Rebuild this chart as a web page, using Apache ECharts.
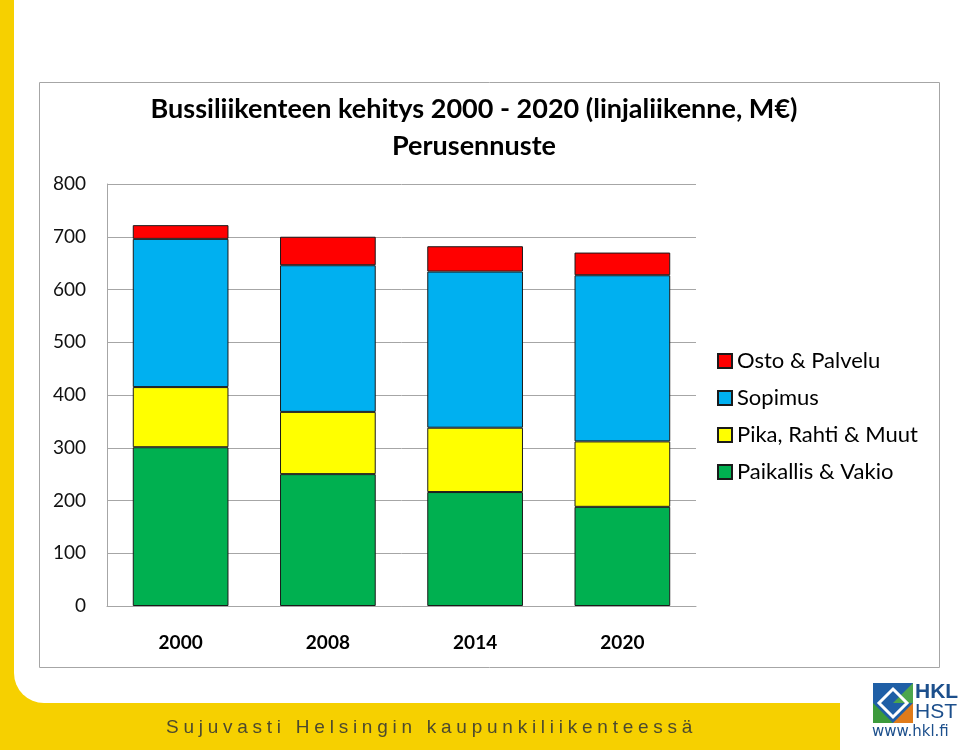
<!DOCTYPE html>
<html>
<head>
<meta charset="utf-8">
<script src="https://cdn.jsdelivr.net/npm/echarts@6/dist/echarts.min.js"></script>
<style>
html,body{margin:0;padding:0;background:#fff;}
#chart{width:960px;height:750px;position:relative;}
#footer{position:absolute;left:166px;top:716px;font-family:"Liberation Sans",Arial,sans-serif;font-size:19px;letter-spacing:4.75px;color:#4d4a2e;white-space:nowrap;}
</style>
</head>
<body>
<div id="chart"></div>
<div id="footer">Sujuvasti Helsingin kaupunkiliikenteessä</div>
<script>
const categories = ['2000', '2008', '2014', '2020'];
const seriesNames = ['Paikallis & Vakio', 'Pika, Rahti & Muut', 'Sopimus', 'Osto & Palvelu'];
const paikallisVakio = [301, 250, 216, 188];
const pikaRahtiMuut = [114, 118, 122, 124];
const sopimus = [281, 278, 296, 315];
const ostoPalvelu = [26, 54, 48, 43];
const yTicks = [0, 100, 200, 300, 400, 500, 600, 700, 800];
const titleText = 'Bussiliikenteen kehitys 2000 - 2020 (linjaliikenne, M€)';
const subtitleText = 'Perusennuste';

const colors = ['#00B050', '#FFFF00', '#00B0F0', '#FF0000'];
const values = [paikallisVakio, pikaRahtiMuut, sopimus, ostoPalvelu];
const FONT = 'Lato, "Open Sans", sans-serif';
const YELLOW = '#F6D000';

const chart = echarts.init(document.getElementById('chart'), null, {renderer: 'canvas'});
const option = {
  animation: false,
  backgroundColor: '#fff',
  textStyle: {fontFamily: FONT},
  title: {
    text: titleText,
    subtext: subtitleText,
    left: 469,
    textAlign: 'center',
    top: 91,
    itemGap: 10,
    textStyle: {fontFamily: FONT, fontWeight: 'bold', fontSize: 27, color: '#000'},
    subtextStyle: {fontFamily: FONT, fontWeight: 'bold', fontSize: 27, color: '#000'}
  },
  legend: {
    orient: 'vertical',
    left: 712,
    top: 345,
    icon: 'rect',
    itemWidth: 14,
    itemHeight: 14,
    itemGap: 15,
    data: seriesNames.slice().reverse(),
    textStyle: {fontFamily: FONT, fontSize: 22, color: '#000', padding: [0, 0, 0, 0]},
    selectedMode: false
  },
  grid: {left: 107, right: 264, top: 184, bottom: 144},
  xAxis: {
    type: 'category',
    data: categories,
    axisLine: {lineStyle: {color: '#A6A6A6', width: 1}},
    axisTick: {show: false},
    axisLabel: {fontFamily: FONT, fontWeight: 'bold', fontSize: 19, color: '#000', margin: 27}
  },
  yAxis: {
    type: 'value',
    min: yTicks[0],
    max: yTicks[yTicks.length - 1],
    interval: yTicks[1] - yTicks[0],
    axisLine: {show: true, lineStyle: {color: '#A6A6A6', width: 1}},
    axisTick: {show: false},
    splitLine: {lineStyle: {color: '#A6A6A6', width: 1}},
    axisLabel: {fontFamily: FONT, fontSize: 19, color: '#111', margin: 21}
  },
  series: seriesNames.map((name, i) => ({
    name: name,
    type: 'bar',
    stack: 'total',
    barWidth: '65%',
    data: values[i],
    itemStyle: {color: colors[i], borderColor: '#1a1a1a', borderWidth: 1}
  })),
  graphic: [
    {type: 'rect', z: -100, shape: {x: 0, y: 0, width: 840, height: 750}, style: {fill: YELLOW}},
    {type: 'rect', z: -99, shape: {x: 14, y: -40, width: 1000, height: 743, r: [0, 0, 0, 30]}, style: {fill: '#fff'}},
    {type: 'rect', z: -99, shape: {x: 840, y: 690, width: 120, height: 60}, style: {fill: '#fff'}},
    {type: 'rect', z: -98, shape: {x: 39.5, y: 82.5, width: 900, height: 585}, style: {fill: '#fff', stroke: '#A6A6A6', lineWidth: 1}},
    // logo
    {type: 'rect', z: 10, shape: {x: 873, y: 683, width: 40, height: 40}, style: {fill: '#1F5FA6'}},
    {type: 'polygon', z: 11, shape: {points: [[873, 703], [873, 723], [893, 723]]}, style: {fill: '#3C9A3C'}},
    {type: 'polygon', z: 11, shape: {points: [[913, 703], [913, 723], [893, 723]]}, style: {fill: '#E07B1A'}},
    {type: 'polygon', z: 11, shape: {points: [[893, 703], [913, 683], [913, 703]]}, style: {fill: '#4CA64C'}},
    {type: 'polygon', z: 12, shape: {points: [[893, 689], [907, 703], [893, 717], [879, 703]]}, style: {fill: 'none', stroke: '#fff', lineWidth: 3}},
    {type: 'text', z: 12, style: {x: 915, y: 682, text: 'HKL', font: 'bold 21px "Liberation Sans Narrow", "Liberation Sans", sans-serif', fill: '#1C4F8C'}},
    {type: 'text', z: 12, style: {x: 915, y: 702, text: 'HST', font: '21px "Liberation Sans Narrow", "Liberation Sans", sans-serif', fill: '#1C4F8C'}},
    {type: 'text', z: 12, style: {x: 872, y: 725, text: 'www.hkl.fi', font: '15px "DejaVu Sans", sans-serif', fill: '#1C4F8C'}}
  ]
};
chart.setOption(option);
</script>
</body>
</html>
